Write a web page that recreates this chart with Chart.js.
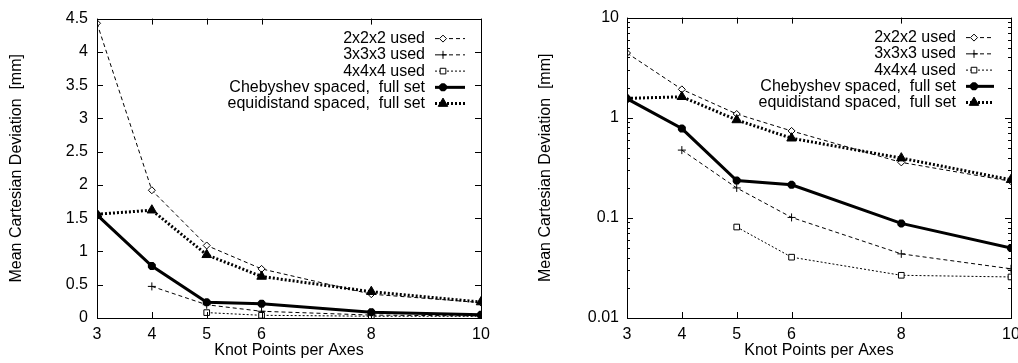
<!DOCTYPE html>
<html>
<head>
<meta charset="utf-8">
<script src="https://cdn.jsdelivr.net/npm/chart.js@4.4.1/dist/chart.umd.min.js"></script>
<style>
  html, body { margin: 0; padding: 0; background: #fff; }
  #wrap { position: relative; width: 1018px; height: 363px; }
  .panel { position: absolute; top: 0; width: 509px; height: 363px; }
</style>
</head>
<body>
<div id="wrap">
  <div class="panel" style="left:0"><canvas id="linChart" width="509" height="363"></canvas></div>
  <div class="panel" style="left:509px"><canvas id="logChart" width="509" height="363"></canvas></div>
</div>
<script>
// knot points per axis (x) and the mean deviation in mm for each series
const knots = [3, 4, 5, 6, 8, 10];
const used2 = [4.43, 1.92, 1.09, 0.738, 0.358, 0.232];
const used3 = [null, 0.475, 0.199, 0.101, 0.0437, 0.031];
const used4 = [null, null, 0.081, 0.0405, 0.0267, 0.0257];
const cheb = [1.55, 0.78, 0.236, 0.214, 0.088, 0.05];
const equi = [1.56, 1.62, 0.95, 0.624, 0.395, 0.24];
const seriesNames = ['2x2x2 used', '3x3x3 used', '4x4x4 used',
  'Chebyshev spaced,  full set', 'equidistand spaced,  full set'];

const xTicks = [3, 4, 5, 6, 8, 10];
const linTicks = [0, 0.5, 1, 1.5, 2, 2.5, 3, 3.5, 4, 4.5];
const logTicks = [0.01, 0.1, 1, 10];

Chart.defaults.font.family = "'Liberation Sans', Arial, sans-serif";
Chart.defaults.font.size = 16;
Chart.defaults.color = '#000';

function pts(arr) {
  return knots.map((k, i) => ({ x: k, y: arr[i] }));
}

function makeDatasets() {
  const styles = [
    { borderWidth: 1, borderDash: [4, 3], pointStyle: 'rectRot', pointRadius: 3.5, pointBorderWidth: 1, pointBackgroundColor: '#fff' },
    { borderWidth: 1, borderDash: [4, 3], pointStyle: 'cross', pointRadius: 4, pointBorderWidth: 1, pointBackgroundColor: '#000' },
    { borderWidth: 1, borderDash: [2, 2], pointStyle: 'rect', pointRadius: 4, pointBorderWidth: 1, pointBackgroundColor: '#fff' },
    { borderWidth: 3, borderDash: [], pointStyle: 'star', pointRadius: 4, pointBorderWidth: 3, pointBackgroundColor: '#000' },
    { borderWidth: 3, borderDash: [2, 2], pointStyle: 'triangle', pointRadius: 5.5, pointBorderWidth: 1, pointBackgroundColor: '#000' }
  ];
  const values = [used2, used3, used4, cheb, equi];
  return values.map((v, i) => Object.assign({
    label: seriesNames[i],
    data: pts(v),
    borderColor: '#000',
    pointBorderColor: '#000',
    fill: false,
    tension: 0,
    spanGaps: false,
    order: 5 - i
  }, styles[i]));
}

// gnuplot-like frame with inward ticks on all four sides
const framePlugin = {
  id: 'frame',
  afterDatasetsDraw(chart) {
    const { ctx, chartArea: a, scales } = chart;
    const xs = scales.x, ys = scales.y;
    ctx.save();
    ctx.strokeStyle = '#000';
    ctx.lineWidth = 1;
    ctx.setLineDash([]);
    ctx.strokeRect(Math.round(a.left) + 0.5, Math.round(a.top) + 0.5,
      Math.round(a.right - a.left), Math.round(a.bottom - a.top));
    ctx.beginPath();
    xTicks.forEach(v => {
      const px = Math.round(xs.getPixelForValue(v)) + 0.5;
      ctx.moveTo(px, a.bottom); ctx.lineTo(px, a.bottom - 6);
      ctx.moveTo(px, a.top); ctx.lineTo(px, a.top + 6);
    });
    const tick = (v, len) => {
      const py = Math.round(ys.getPixelForValue(v)) + 0.5;
      ctx.moveTo(a.left, py); ctx.lineTo(a.left + len, py);
      ctx.moveTo(a.right, py); ctx.lineTo(a.right - len, py);
    };
    if (ys.type === 'logarithmic') {
      logTicks.forEach(v => tick(v, 6));
      for (let d = 0; d < logTicks.length - 1; d++) {
        for (let k = 2; k <= 9; k++) tick(logTicks[d] * k, 3);
      }
    } else {
      linTicks.forEach(v => tick(v, 6));
    }
    ctx.stroke();
    ctx.restore();
  }
};

// key in the top right corner: text, then a line sample with its marker
const keyPlugin = {
  id: 'key',
  afterDraw(chart, args, opts) {
    const { ctx, chartArea: a } = chart;
    ctx.save();
    ctx.font = "16px 'Liberation Sans', Arial, sans-serif";
    ctx.textAlign = 'right';
    ctx.textBaseline = 'middle';
    chart.data.datasets.forEach((ds, i) => {
      const y = a.top + 20 + i * 16.25;
      ctx.fillStyle = '#000';
      ctx.fillText(ds.label, opts.textRight, y);
      ctx.strokeStyle = '#000';
      ctx.lineWidth = ds.borderWidth;
      ctx.setLineDash(ds.borderDash);
      ctx.beginPath();
      ctx.moveTo(opts.sampleLeft, y);
      ctx.lineTo(opts.sampleRight, y);
      ctx.stroke();
      ctx.setLineDash([]);
      ctx.lineWidth = ds.pointBorderWidth;
      ctx.fillStyle = ds.pointBackgroundColor;
      Chart.helpers.drawPoint(ctx, {
        pointStyle: ds.pointStyle, radius: ds.pointRadius,
        borderWidth: ds.pointBorderWidth, rotation: 0
      }, opts.sampleLeft + 8, y);
    });
    ctx.restore();
  }
};

function buildChart(id, logY, yWidth, pad, key) {
  const yScale = logY ? {
    type: 'logarithmic', min: 0.01, max: 10,
    afterBuildTicks: s => { s.ticks = logTicks.map(v => ({ value: v, major: true })); },
    ticks: { callback: v => String(v), padding: 8, color: '#000' }
  } : {
    type: 'linear', min: 0, max: 4.5,
    afterBuildTicks: s => { s.ticks = linTicks.map(v => ({ value: v })); },
    ticks: { callback: v => String(v), padding: 9, color: '#000' }
  };
  Object.assign(yScale, {
    grid: { display: false, drawTicks: false },
    border: { display: false },
    title: { display: true, text: 'Mean Cartesian Deviation  [mm]', color: '#000', padding: { top: 7, bottom: 4 } },
    afterFit: s => { s.width = yWidth; }
  });

  return new Chart(document.getElementById(id), {
    type: 'line',
    data: { datasets: makeDatasets() },
    options: {
      responsive: false,
      animation: false,
      layout: { padding: pad },
      plugins: { legend: { display: false }, tooltip: { enabled: false }, key: key },
      scales: {
        x: {
          type: 'linear', min: 3, max: 10,
          afterBuildTicks: s => { s.ticks = xTicks.map(v => ({ value: v })); },
          ticks: { callback: v => String(v), padding: 7, maxRotation: 0, autoSkip: false, color: '#000' },
          grid: { display: false, drawTicks: false },
          border: { display: false },
          title: { display: true, text: 'Knot Points per Axes', color: '#000', padding: { top: 0, bottom: 3 } },
          afterFit: s => { s.height = 45; s.paddingLeft = 0; s.paddingRight = 0; }
        },
        y: yScale
      }
    },
    plugins: [framePlugin, keyPlugin]
  });
}

buildChart('linChart', false, 97, { top: 15, right: 28, left: 0, bottom: 0 },
  { textRight: 425, sampleLeft: 435, sampleRight: 465 });
buildChart('logChart', true, 98, { top: 15, right: 7, left: 20, bottom: 0 },
  { textRight: 447, sampleLeft: 457, sampleRight: 485 });
</script>
</body>
</html>
